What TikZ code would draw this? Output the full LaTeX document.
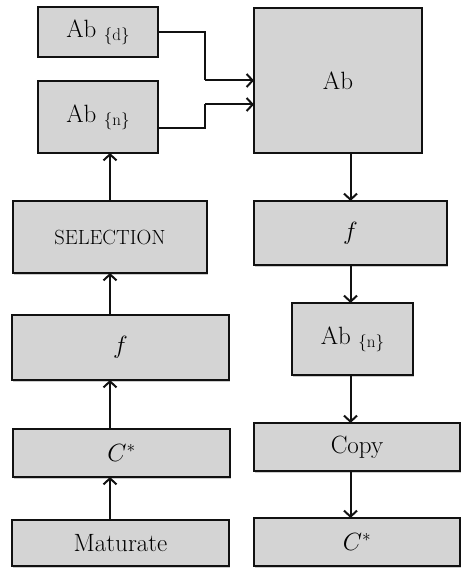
\documentclass[tikz,border=0pt]{standalone}
\usetikzlibrary{arrows.meta,positioning,shadows}
\definecolor{cBox}{HTML}{D4D4D4}
\definecolor{cInk}{HTML}{111111}
\newcommand{\absub}[1]{\raisebox{-3pt}{\fontsize{17}{17}\selectfont\{#1\}}}
\tikzset{
  box/.style={draw=cInk, line width=2pt, fill=cBox, align=center, inner sep=2pt, outer sep=0pt,
    font=\fontsize{25}{30}\selectfont, anchor=north west,
    drop shadow={shadow xshift=1pt, shadow yshift=-1.5pt, fill=black, opacity=0.2}},
  flow/.style={-{Straight Barb[length=6pt, width=13pt, line width=2pt]}, line width=2pt, draw=cInk},
  link/.style={line width=2pt, draw=cInk},
}

\begin{document}
\begin{tikzpicture}[x=1pt, y=1pt]
\useasboundingbox (0,0) rectangle (462,-569);
% left column (bottom to top flow)
\node[box, minimum width=120pt, minimum height=50pt] (abd) at (38,-7) {Ab \absub{d}};
\node[box, minimum width=120pt, minimum height=72pt, below=24pt of abd.south west, anchor=north west] (abn) {Ab \absub{n}};
\node[box, minimum width=194pt, minimum height=72pt, below=48pt of abn.south west, anchor=north west, xshift=-25pt, font=\fontsize{20.5}{24}\selectfont] (sel) {SELECTION};
\node[box, minimum width=217pt, minimum height=65pt, below=42pt of sel.south west, anchor=north west, xshift=-1pt] (fl) {$f$};
\node[box, minimum width=217pt, minimum height=48pt, below=49pt of fl.south west, anchor=north west, xshift=1pt] (cl) {$C^{*}$};
\node[box, minimum width=217pt, minimum height=46pt, below=43pt of cl.south west, anchor=north west, xshift=-1pt] (mat) {Maturate};
% right column (top to bottom flow)
\node[box, minimum width=168pt, minimum height=145pt] (ab) at (254,-8) {Ab};
\node[box, minimum width=193pt, minimum height=64pt, below=48pt of ab.south west, anchor=north west] (fr) {$f$};
\node[box, minimum width=121pt, minimum height=72pt, below=38pt of fr.south west, anchor=north west, xshift=38pt] (abr) {Ab \absub{n}};
\node[box, minimum width=206pt, minimum height=48pt, below=48pt of abr.south west, anchor=north west, xshift=-38pt] (copy) {Copy};
\node[box, minimum width=206pt, minimum height=48pt, below=47pt of copy.south west, anchor=north west] (cr) {$C^{*}$};
% links into Ab
\coordinate (jn) at (205,0);
\coordinate (abin) at ([yshift=-24pt]ab.west);
\coordinate (abnout) at ([yshift=-11pt]abn.east);
\draw[link] (abd.east) -- (abd.east -| jn) -- (jn |- ab.west);
\draw[flow] (jn |- ab.west) -- (ab.west);
\draw[link] (abnout) -- (abnout -| jn) -- (jn |- abin);
\draw[flow] (jn |- abin) -- (abin);
% left arrows
\draw[flow] (mat.north -| sel.south) -- (cl.south -| sel.south);
\draw[flow] (cl.north -| sel.south) -- (fl.south -| sel.south);
\draw[flow] (fl.north -| sel.south) -- (sel.south);
\draw[flow] (sel.north) -- (abn.south -| sel.north);
% right arrows
\draw[flow] (ab.south -| fr.north) -- (fr.north);
\draw[flow] (fr.south) -- (abr.north -| fr.south);
\draw[flow] (abr.south -| fr.south) -- (copy.north -| fr.south);
\draw[flow] (copy.south -| fr.south) -- (cr.north -| fr.south);
\end{tikzpicture}
\end{document}
